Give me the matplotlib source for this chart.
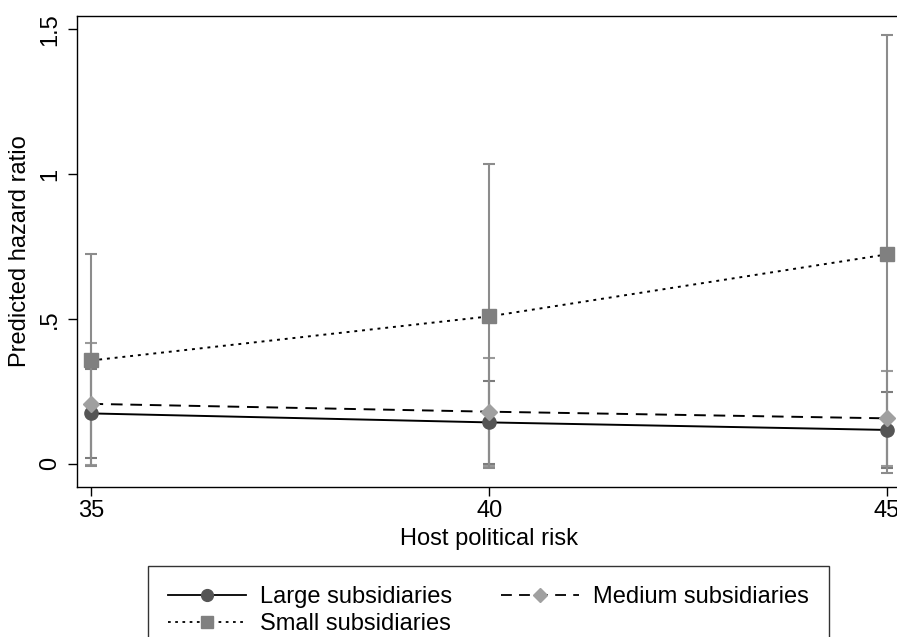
import matplotlib
matplotlib.use("Agg")
import matplotlib.pyplot as plt
from matplotlib.lines import Line2D

plt.rcParams["font.family"] = ["Liberation Sans", "DejaVu Sans"]

# host political risk values
risk = [35, 40, 45]

# predicted hazard ratios with confidence bounds
large = [0.174, 0.143, 0.117]
large_lo = [0.020, -0.001, -0.015]
large_hi = [0.328, 0.287, 0.249]

medium = [0.207, 0.180, 0.157]
medium_lo = [-0.004, -0.006, -0.006]
medium_hi = [0.418, 0.366, 0.320]

small = [0.357, 0.509, 0.723]
small_lo = [-0.009, -0.016, -0.032]
small_hi = [0.723, 1.035, 1.480]

yticks = [0, 0.5, 1, 1.5]
yticklabels = ["0", ".5", "1", "1.5"]

fs = 17

fig = plt.figure(figsize=(8.97, 6.37), dpi=100)
ax = fig.add_axes([77 / 897, 1 - 487 / 637, (901.5 - 77) / 897, (487 - 16) / 637])

series = [
    ("Large subsidiaries", large, large_lo, large_hi, "o", "#555555", "#7c7c7c", "-", 9.5),
    ("Medium subsidiaries", medium, medium_lo, medium_hi, "D", "#a0a0a0", "#9a9a9a", (0, (6, 4)), 8.5),
    ("Small subsidiaries", small, small_lo, small_hi, "s", "#808080", "#8c8c8c", (0, (1.5, 2.5)), 9.5),
]

handles = {}
for name, y, lo, hi, mk, mcol, ecol, ls, ms in series:
    err = [[v - l for v, l in zip(y, lo)], [h - v for v, h in zip(y, hi)]]
    ax.errorbar(risk, y, yerr=err, fmt="none", ecolor=ecol, elinewidth=1.5,
                capsize=4.5, capthick=1.5, zorder=2)
    ax.plot(risk, y, color="black", linestyle=ls, linewidth=1.4, zorder=3)
    ax.plot(risk, y, linestyle="none", marker=mk, markersize=ms,
            markerfacecolor=mcol, markeredgecolor=mcol, zorder=4)
    handles[name] = Line2D([], [], color="black", linestyle=ls, linewidth=1.3,
                           marker=mk, markersize=ms - 1, markerfacecolor=mcol,
                           markeredgecolor=mcol)

ax.set_xlim(34.818, 45.182)
ax.set_ylim(-0.08, 1.546)
ax.set_xticks(risk)
ax.set_xticklabels([str(v) for v in risk], fontsize=fs)
ax.set_yticks(yticks)
ax.set_yticklabels(yticklabels, fontsize=fs, rotation=90, va="center")
ax.tick_params(direction="out", length=6.5, width=1.0, pad=3)
ax.tick_params(axis="y", pad=5)
for sp in ax.spines.values():
    sp.set_linewidth(1.0)
    sp.set_color("black")

ax.set_xlabel("Host political risk", fontsize=fs, labelpad=4)
ax.set_ylabel("Predicted hazard ratio", fontsize=fs, labelpad=6)

order = ["Large subsidiaries", "Small subsidiaries", "Medium subsidiaries"]
leg = fig.legend([handles[k] for k in order], order, loc="upper left",
                 bbox_to_anchor=(148 / 897, 1 - 566 / 637), ncol=2,
                 fontsize=fs, frameon=True, fancybox=False, edgecolor="black",
                 handlelength=3.3, handletextpad=0.6, columnspacing=2.05,
                 borderpad=0.85, labelspacing=0.2, borderaxespad=0)
leg.get_frame().set_linewidth(1.0)

fig.savefig("out.png", dpi=100)
